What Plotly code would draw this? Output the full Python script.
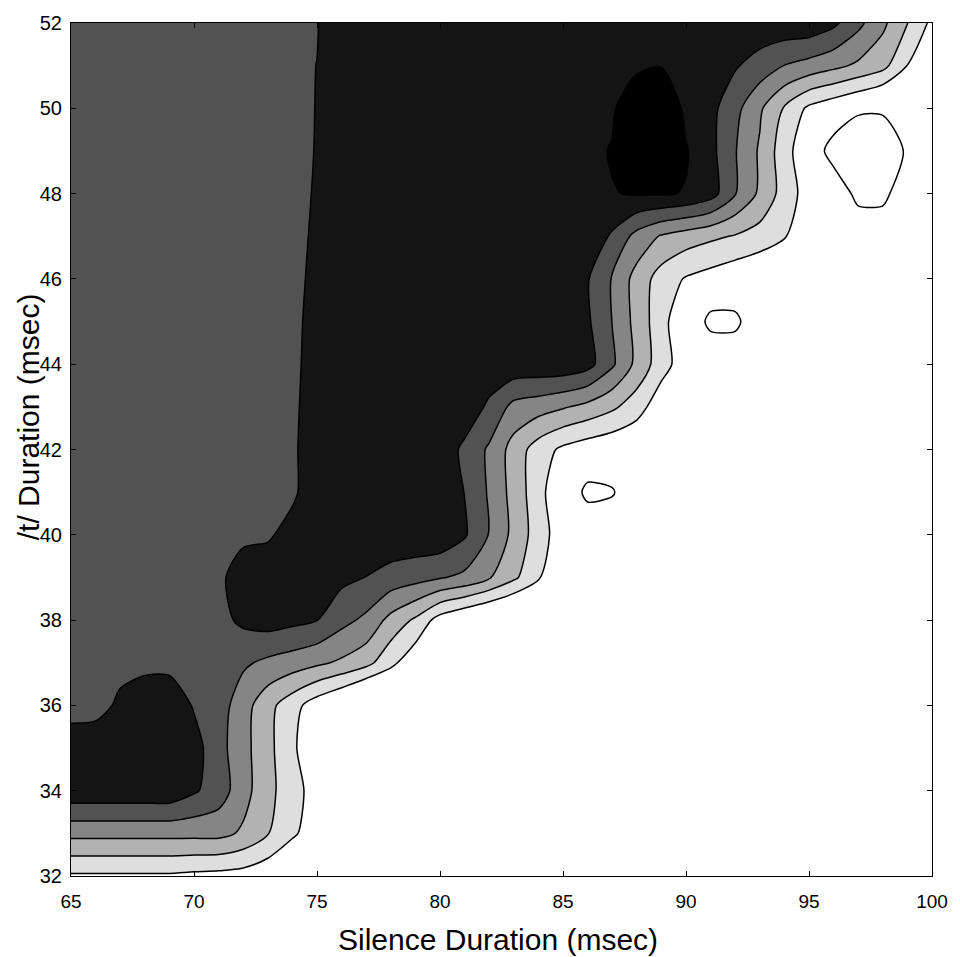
import plotly.graph_objects as go

# Grid of the contour map
silence_ms = list(range(65, 101))          # x: Silence Duration (msec)
t_dur_ms = list(range(32, 53))             # y: /t/ Duration (msec)

# Response level (rows = /t/ duration 32..52, cols = silence 65..100)
z_level = [
    [0.35, 0.35, 0.35, 0.35, 0.35, 0.25, 0.18, 0.07, -0.25, -1.25, -1.5, -1.5, -1.5, -1.5, -1.5, -1.5, -1.5, -1.5, -1.5, -1.5, -1.5, -1.5, -1.5, -1.5, -1.5, -1.5, -1.5, -1.5, -1.5, -1.5, -1.5, -1.5, -1.5, -1.5, -1.5, -1.5],
    [2.8, 2.8, 2.8, 2.8, 2.8, 2.8, 2.8, 2.35, 1.55, 0.74, -0.3, -1.5, -1.5, -1.5, -1.5, -1.5, -1.5, -1.5, -1.5, -1.5, -1.5, -1.5, -1.5, -1.5, -1.5, -1.5, -1.5, -1.5, -1.5, -1.5, -1.5, -1.5, -1.5, -1.5, -1.5, -1.5],
    [5.2, 5.2, 5.2, 5.2, 5.2, 4.63, 4.03, 2.88, 1.8, 0.9, 0.05, -1.5, -1.5, -1.5, -1.5, -1.5, -1.5, -1.5, -1.5, -1.5, -1.5, -1.5, -1.5, -1.5, -1.5, -1.5, -1.5, -1.5, -1.5, -1.5, -1.5, -1.5, -1.5, -1.5, -1.5, -1.5],
    [5.2, 5.2, 5.2, 5.2, 5.2, 4.89, 3.86, 2.84, 1.79, 0.7, -0.41, -1.5, -1.5, -1.5, -1.5, -1.5, -1.5, -1.5, -1.5, -1.5, -1.5, -1.5, -1.5, -1.5, -1.5, -1.5, -1.5, -1.5, -1.5, -1.5, -1.5, -1.5, -1.5, -1.5, -1.5, -1.5],
    [4.0, 4.1, 4.7, 5.2, 5.2, 4.41, 3.98, 2.93, 1.83, 0.89, -0.06, -0.8, -1.8, -1.5, -1.5, -1.5, -1.5, -1.5, -1.5, -1.5, -1.5, -1.5, -1.5, -1.5, -1.5, -1.5, -1.5, -1.5, -1.5, -1.5, -1.5, -1.5, -1.5, -1.5, -1.5, -1.5],
    [4.2, 4.2, 4.2, 4.2, 4.2, 4.2, 4.2, 3.66, 3.28, 3.01, 2.69, 2.33, 1.84, 0.77, -0.23, -1.5, -1.5, -1.5, -1.5, -1.5, -1.5, -1.5, -1.5, -1.5, -1.5, -1.5, -1.5, -1.5, -1.5, -1.5, -1.5, -1.5, -1.5, -1.5, -1.5, -1.5],
    [4.2, 4.2, 4.2, 4.2, 4.2, 4.2, 4.2, 4.7, 4.95, 4.76, 4.52, 3.81, 3.28, 2.18, 1.33, 0.05, -0.6, -1.1, -1.5, -1.5, -1.5, -1.5, -1.5, -1.5, -1.5, -1.5, -1.5, -1.5, -1.5, -1.5, -1.5, -1.5, -1.5, -1.5, -1.5, -1.5],
    [4.2, 4.2, 4.2, 4.2, 4.2, 4.2, 4.2, 5.2, 5.2, 5.2, 5.2, 4.74, 4.48, 4.11, 3.87, 3.58, 3.28, 2.6, 1.7, 0.62, -0.58, -1.5, -1.5, -1.5, -1.5, -1.5, -1.5, -1.5, -1.5, -1.5, -1.5, -1.5, -1.5, -1.5, -1.5, -1.5],
    [4.2, 4.2, 4.2, 4.2, 4.2, 4.2, 4.2, 4.2, 4.35, 4.91, 5.2, 5.2, 5.2, 5.2, 5.2, 5.2, 4.62, 3.45, 2.22, 1.0, -0.1, -1.5, -1.5, -1.5, -1.5, -1.5, -1.5, -1.5, -1.5, -1.5, -1.5, -1.5, -1.5, -1.5, -1.5, -1.5],
    [4.2, 4.2, 4.2, 4.2, 4.2, 4.2, 4.2, 4.2, 4.2, 4.3, 5.2, 5.2, 5.2, 5.2, 5.2, 5.2, 4.48, 3.38, 2.13, 0.88, -0.43, -1.5, -1.5, -1.5, -1.5, -1.5, -1.5, -1.5, -1.5, -1.5, -1.5, -1.5, -1.5, -1.5, -1.5, -1.5],
    [4.2, 4.2, 4.2, 4.2, 4.2, 4.2, 4.2, 4.2, 4.2, 4.3, 5.2, 5.2, 5.2, 5.2, 5.2, 5.2, 4.26, 3.35, 2.09, 1.0, 0.29, -0.08, -0.31, -0.57, -1.5, -1.5, -1.5, -1.5, -1.5, -1.5, -1.5, -1.5, -1.5, -1.5, -1.5, -1.5],
    [4.2, 4.2, 4.2, 4.2, 4.2, 4.2, 4.2, 4.2, 4.2, 4.3, 5.01, 5.2, 5.2, 5.2, 5.2, 5.2, 5.2, 4.3, 3.2, 2.94, 2.6, 2.21, 1.69, 0.98, -0.18, -1.5, -1.5, -1.5, -1.5, -1.5, -1.5, -1.5, -1.5, -1.5, -1.5, -1.5],
    [4.2, 4.2, 4.2, 4.2, 4.2, 4.2, 4.2, 4.2, 4.2, 4.3, 4.86, 5.2, 5.2, 5.2, 5.2, 5.2, 5.2, 5.2, 5.2, 5.2, 5.2, 4.86, 3.67, 2.22, 0.95, -0.11, -1.5, -1.5, -1.5, -1.5, -1.5, -1.5, -1.5, -1.5, -1.5, -1.5],
    [4.2, 4.2, 4.2, 4.2, 4.2, 4.2, 4.2, 4.2, 4.2, 4.3, 4.78, 5.2, 5.2, 5.2, 5.2, 5.2, 5.2, 5.2, 5.2, 5.2, 5.2, 4.65, 3.48, 2.16, 0.87, -0.4, -1.5, -1.5, -1.5, -1.5, -1.5, -1.5, -1.5, -1.5, -1.5, -1.5],
    [4.2, 4.2, 4.2, 4.2, 4.2, 4.2, 4.2, 4.2, 4.2, 4.3, 4.68, 5.2, 5.2, 5.2, 5.2, 5.2, 5.2, 5.2, 5.2, 5.2, 5.2, 4.57, 3.42, 2.12, 1.05, 0.41, 0.09, -0.23, -0.55, -1.5, -1.5, -1.5, -1.5, -1.5, -1.5, -1.5],
    [4.2, 4.2, 4.2, 4.2, 4.2, 4.2, 4.2, 4.2, 4.2, 4.3, 4.61, 5.2, 5.2, 5.2, 5.2, 5.2, 5.2, 5.2, 5.2, 5.2, 5.2, 5.2, 4.36, 3.16, 2.4, 2.01, 1.7, 1.43, 1.1, 0.62, -0.58, -1.5, -1.5, -1.5, -1.5, -1.5],
    [4.2, 4.2, 4.2, 4.2, 4.2, 4.2, 4.2, 4.2, 4.2, 4.3, 4.56, 5.2, 5.2, 5.2, 5.2, 5.2, 5.2, 5.2, 5.2, 5.2, 5.2, 5.2, 5.45, 5.59, 5.59, 5.45, 4.94, 3.56, 2.31, 1.08, 0.01, -1.5, -1.5, -1.5, -1.5, -1.5],
    [4.2, 4.2, 4.2, 4.2, 4.2, 4.2, 4.2, 4.2, 4.2, 4.3, 4.53, 5.2, 5.2, 5.2, 5.2, 5.2, 5.2, 5.2, 5.2, 5.2, 5.2, 5.2, 5.58, 6.5, 6.5, 5.58, 4.8, 3.56, 2.37, 0.92, -0.31, -1.5, -1.5, -1.5, -1.5, -1.5],
    [4.2, 4.2, 4.2, 4.2, 4.2, 4.2, 4.2, 4.2, 4.2, 4.3, 4.52, 5.2, 5.2, 5.2, 5.2, 5.2, 5.2, 5.2, 5.2, 5.2, 5.2, 5.2, 5.3, 6.7, 6.7, 5.2, 4.8, 3.81, 2.66, 1.41, 0.29, -0.21, -0.68, -1.17, -1.5, -1.5],
    [4.2, 4.2, 4.2, 4.2, 4.2, 4.2, 4.2, 4.2, 4.2, 4.3, 4.51, 5.2, 5.2, 5.2, 5.2, 5.2, 5.2, 5.2, 5.2, 5.2, 5.2, 5.2, 5.2, 5.2, 5.45, 5.2, 5.2, 4.6, 4.06, 3.48, 3.14, 2.76, 2.32, 1.83, 0.48, -1.5],
    [4.2, 4.2, 4.2, 4.2, 4.2, 4.2, 4.2, 4.2, 4.2, 4.3, 4.45, 5.2, 5.2, 5.2, 5.2, 5.2, 5.2, 5.2, 5.2, 5.2, 5.2, 5.2, 5.2, 5.2, 5.2, 5.2, 5.2, 5.2, 5.2, 5.2, 5.2, 4.72, 3.77, 2.72, 1.52, 0.26],
]

# Small closed outlines in the white area (x 85..100, y 40..50)
isl_x = list(range(85, 101))
isl_y = list(range(40, 51))
isl_z = [
    [0] * 16,
    [0, 0.65, 0.56, 0, 0, 0, 0, 0, 0, 0, 0, 0, 0, 0, 0, 0],
    [0] * 16,
    [0] * 16,
    [0] * 16,
    [0, 0, 0, 0, 0, 0, 0.65, 0.65, 0, 0, 0, 0, 0, 0, 0, 0],
    [0] * 16,
    [0] * 16,
    [0, 0, 0, 0, 0, 0, 0, 0, 0, 0, 0, 0, 0.7, 0.7, 0, 0],
    [0, 0, 0, 0, 0, 0, 0, 0, 0, 0, 0, 0.8, 3.0, 3.0, 0, 0],
    [0] * 16,
]

contour_start, contour_end, contour_step = 0.5, 5.5, 1.0
band_colors = ['#ffffff', '#dedede', '#b2b2b2', '#858585', '#525252', '#141414', '#000000']

x_ticks = [65, 70, 75, 80, 85, 90, 95, 100]
y_ticks = [32, 34, 36, 38, 40, 42, 44, 46, 48, 50, 52]

FONT = 'Liberation Sans, Arial, Helvetica, sans-serif'

n = len(band_colors) - 1
colorscale = [[i / n, c] for i, c in enumerate(band_colors)]

fig = go.Figure()
fig.add_trace(go.Contour(
    x=silence_ms, y=t_dur_ms, z=z_level,
    autocontour=False,
    contours=dict(start=contour_start, end=contour_end, size=contour_step,
                  coloring='fill', showlines=True),
    colorscale=colorscale, showscale=False,
    line=dict(color='black', width=1.5, smoothing=0.75),
    hoverinfo='skip',
))
fig.add_trace(go.Contour(
    x=isl_x, y=isl_y, z=isl_z,
    autocontour=False,
    contours=dict(start=0.5, end=0.5, size=1, coloring='none', showlines=True),
    showscale=False,
    line=dict(color='black', width=1.5, smoothing=0.75),
    hoverinfo='skip',
))

axis_common = dict(
    ticks='inside', ticklen=5, tickcolor='black', tickwidth=1,
    showline=True, linecolor='black', linewidth=1, mirror='ticks',
    showgrid=False, zeroline=False,
)
fig.update_xaxes(range=[65, 100], tickvals=x_ticks, ticktext=[str(v) for v in x_ticks],
                 tickfont=dict(family=FONT, size=19, color='black'),
                 ticklabelstandoff=8, **axis_common)
fig.update_yaxes(range=[32, 52], tickvals=y_ticks, ticktext=[str(v) for v in y_ticks],
                 tickfont=dict(family=FONT, size=20, color='black'),
                 ticklabelstandoff=4, **axis_common)

fig.update_layout(
    width=960, height=957,
    margin=dict(l=71, r=23, t=21, b=81),
    paper_bgcolor='white', plot_bgcolor='white',
    showlegend=False,
    annotations=[
        dict(text='Silence Duration (msec)', xref='paper', yref='paper',
             x=0.4965, y=-0.0749, xanchor='center', yanchor='middle', showarrow=False,
             font=dict(family=FONT, size=30, color='black')),
        dict(text='/t/ Duration (msec)', xref='paper', yref='paper', textangle=-90,
             x=-0.0497, y=0.538, xanchor='center', yanchor='middle', showarrow=False,
             font=dict(family=FONT, size=30, color='black')),
    ],
)

fig.write_html('out.html')
